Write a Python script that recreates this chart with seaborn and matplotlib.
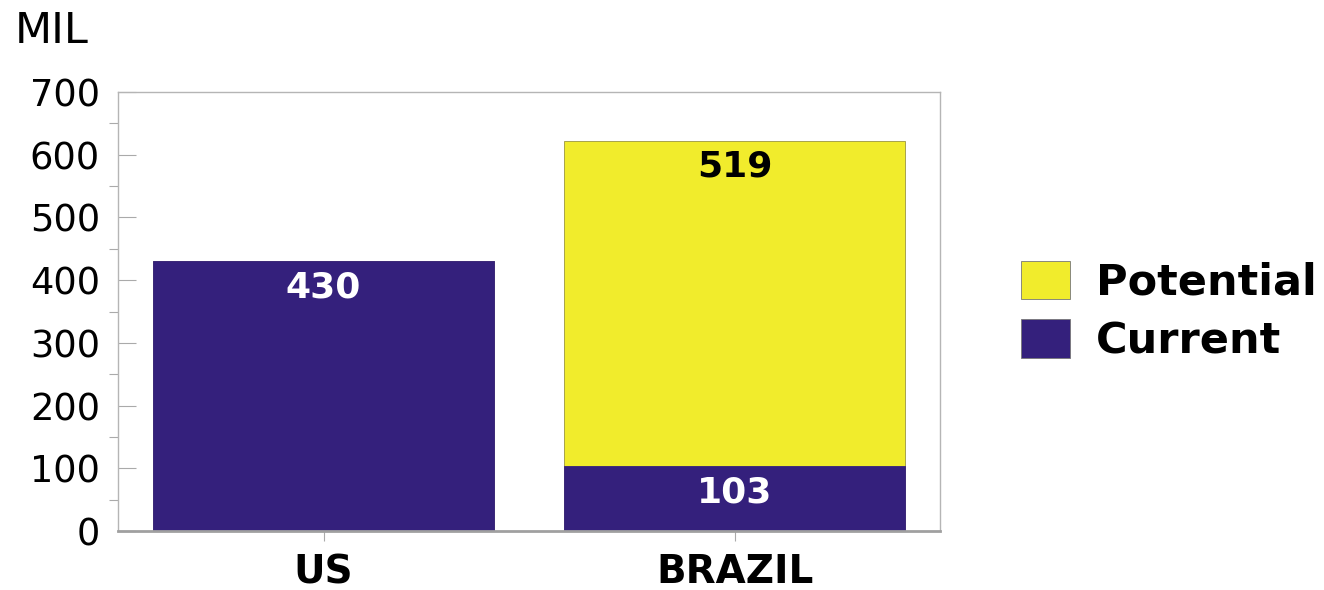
import matplotlib
matplotlib.use('Agg')
import matplotlib.pyplot as plt
from matplotlib.ticker import MultipleLocator
import pandas as pd
import seaborn as sns

countries = ['US', 'BRAZIL']
current = [430, 103]
potential = [0, 519]
y_ticks = [0, 100, 200, 300, 400, 500, 600, 700]

purple = '#34207c'
yellow = '#f1ec2c'

sns.set_style('white')
plt.rcParams['font.family'] = ['DejaVu Sans']
plt.rcParams['text.color'] = 'black'
plt.rcParams['xtick.labelcolor'] = 'black'
plt.rcParams['ytick.labelcolor'] = 'black'

df = pd.DataFrame({'country': countries, 'current': current, 'potential': potential})
df['total'] = df['current'] + df['potential']

fig = plt.figure(figsize=(13.24, 5.9), dpi=100)
ax = fig.add_axes([0.0891, 0.1, 0.621, 0.744])

sns.barplot(ax=ax, data=df, x='country', y='total', color=yellow, width=0.83,
            saturation=1, edgecolor='#9a9640', linewidth=0.6, label='Potential')
sns.barplot(ax=ax, data=df, x='country', y='current', color=purple, width=0.83,
            saturation=1, edgecolor=purple, linewidth=0.6, label='Current')

# value labels just under the top of each segment
for i, row in df.iterrows():
    ax.annotate(str(row['current']), (i, row['current']), xytext=(0, -26),
                textcoords='offset pixels', ha='center', va='center',
                color='white', fontsize=26, fontweight='bold')
    if row['potential'] > 0:
        ax.annotate(str(row['potential']), (i, row['total']), xytext=(0, -26),
                    textcoords='offset pixels', ha='center', va='center',
                    color='black', fontsize=26, fontweight='bold')

ax.set_ylim(0, 700)
ax.set_xlim(-0.5, 1.5)
ax.set_yticks(y_ticks)
ax.yaxis.set_minor_locator(MultipleLocator(50))
ax.set_xlabel('')
ax.set_ylabel('')

ax.tick_params(axis='y', which='major', direction='in', length=13, width=0.8,
               color='#aaaaaa', labelsize=26.5, pad=13, left=True)
ax.tick_params(axis='y', which='minor', direction='out', length=6.5, width=0.8,
               color='#aaaaaa', left=True)
ax.tick_params(axis='x', which='major', direction='out', length=7, width=0.8,
               color='#aaaaaa', labelsize=28, pad=9, bottom=True)
for lab in ax.get_xticklabels():
    lab.set_fontweight('bold')

for side in ['top', 'right', 'left']:
    ax.spines[side].set_color('#b5b5b5')
    ax.spines[side].set_linewidth(1.0)
ax.spines['bottom'].set_color('#a0a0a0')
ax.spines['bottom'].set_linewidth(2.0)

fig.text(0.011, 0.947, 'MIL', fontsize=31, va='center', ha='left')

leg = ax.legend(loc='center left', bbox_to_anchor=(0.771, 0.472),
                bbox_transform=fig.transFigure, frameon=False,
                prop={'size': 31, 'weight': 'bold'}, handlelength=1.14,
                handleheight=1.0, handletextpad=0.6, labelspacing=0.36,
                borderpad=0, borderaxespad=0)
for h in leg.legend_handles:
    h.set_edgecolor('#777777')
    h.set_linewidth(0.6)

fig.savefig('out.png', dpi=100)
